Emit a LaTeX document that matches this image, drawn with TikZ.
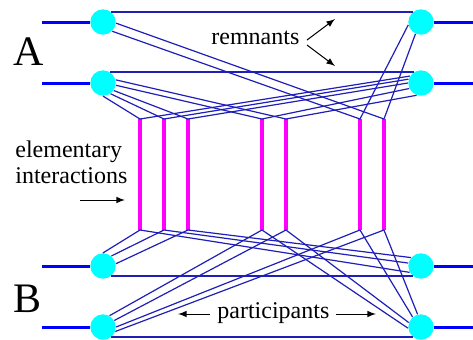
\documentclass[tikz,border=0pt]{standalone}
\usepackage{fontspec}
\setmainfont{Liberation Serif}
\usepackage{xcolor}
\usepackage{tikz}
\usetikzlibrary{arrows}
\definecolor{wireblue}{rgb}{0.12, 0.12, 0.72}
\definecolor{beamblue}{rgb}{0, 0, 1}
\definecolor{nucleon}{rgb}{0, 1, 1}
\definecolor{pomeron}{rgb}{1, 0, 1}

\begin{document}
\begin{tikzpicture}[x=0.5pt, y=-0.5pt,
	nuc/.style={circle, fill=nucleon, minimum size=12.7pt, inner sep=0pt},
	beam/.style={beamblue, line width=1.5pt},
	wire/.style={wireblue, line width=0.6pt},
	ladder/.style={pomeron, line width=2.3pt},
	lbl/.style={inner sep=0pt, font=\fontsize{12}{13.3}\selectfont},
	big/.style={inner sep=0pt, font=\fontsize{21}{25}\selectfont},
	pointer/.style={-latex, black, line width=0.5pt}]
	\useasboundingbox (0,0) rectangle (473,339);
	\pgfmathsetmacro{\ytop}{119}
	\pgfmathsetmacro{\ybot}{230}
	\node[nuc] (A1l) at (103,22) {};
	\node[nuc] (A1r) at (421,22) {};
	\node[nuc] (A2l) at (103,83) {};
	\node[nuc] (A2r) at (421,83) {};
	\node[nuc] (B1l) at (103,266) {};
	\node[nuc] (B1r) at (421,266) {};
	\node[nuc] (B2l) at (103,327) {};
	\node[nuc] (B2r) at (421,327) {};
	\coordinate (A1in) at (42,22);
	\coordinate (A1out) at (473,22);
	\coordinate (A2in) at (42,83);
	\coordinate (A2out) at (473,83);
	\coordinate (B1in) at (42,266);
	\coordinate (B1out) at (473,266);
	\coordinate (B2in) at (42,327);
	\coordinate (B2out) at (473,327);
	\draw[beam] (A1in) -- (A1l);
	\draw[beam] (A1r) -- (A1out);
	\draw[beam] (A2in) -- (A2l);
	\draw[beam] (A2r) -- (A2out);
	\draw[beam] (B1in) -- (B1l);
	\draw[beam] (B1r) -- (B1out);
	\draw[beam] (B2in) -- (B2l);
	\draw[beam] (B2r) -- (B2out);
	\foreach \n/\x in {1/140, 2/164, 3/188, 4/262, 5/286, 6/360, 7/384} {
		\coordinate (t\n) at (\x,\ytop);
		\coordinate (b\n) at (\x,\ybot);
		\draw[ladder] (t\n) -- (b\n);
	}
	\draw[wire] (A1l.50) -- (A1r.130);
	\draw[wire] (A2l.57) -- (A2r.123);
	\draw[wire] (B1l.-50) -- (B1r.-130);
	\draw[wire] (B2l.-50) -- (B2r.-130);
	\draw[wire] (A1l.-5) -- (t7);
	\draw[wire] (A1l.-45) -- (t6);
	\draw[wire] (A1r.193) -- (t6);
	\draw[wire] (A1r.245) -- (t7);
	\draw[wire] (A2l.14) -- (t5);
	\draw[wire] (A2l.-10) -- (t4);
	\draw[wire] (A2l.-35) -- (t3);
	\draw[wire] (A2l.-55) -- (t2);
	\draw[wire] (A2l.-90) -- (t1);
	\draw[wire] (A2r.148) -- (t1);
	\draw[wire] (A2r.163) -- (t2);
	\draw[wire] (A2r.180) -- (t3);
	\draw[wire] (A2r.205) -- (t4);
	\draw[wire] (A2r.250) -- (t5);
	\draw[wire] (B1l.90) -- (b1);
	\draw[wire] (B1l.50) -- (b2);
	\draw[wire] (B1l.10) -- (b3);
	\draw[wire] (B1r.140) -- (b3);
	\draw[wire] (B1r.167) -- (b2);
	\draw[wire] (B1r.209) -- (b1);
	\draw[wire] (B2l.60) -- (b4);
	\draw[wire] (B2l.30) -- (b5);
	\draw[wire] (B2l.0) -- (b6);
	\draw[wire] (B2l.-20) -- (b7);
	\draw[wire] (B2r.185) -- (b4);
	\draw[wire] (B2r.160) -- (b5);
	\draw[wire] (B2r.130) -- (b6);
	\draw[wire] (B2r.105) -- (b7);
	\node[big, anchor=base west] (Alabel) at (13,65) {A};
	\node[big, anchor=base west] (Blabel) at (13,312) {B};
	\node[lbl, anchor=base west] (remn) at (211,44) {remnants};
	\node[lbl, anchor=base west] (elem) at (15,157) {elementary};
	\node[lbl, anchor=base west] (inter) at (15,183) {interactions};
	\node[lbl, anchor=base west] (part) at (217,318) {participants};
	\coordinate (remA) at (307,40);
	\coordinate (remAtip) at (335,19);
	\coordinate (remB) at (307,45);
	\coordinate (remBtip) at (335,66);
	\coordinate (intA) at (80,200);
	\coordinate (intAtip) at (125,200);
	\coordinate (partA) at (210,314);
	\coordinate (partAtip) at (178,314);
	\coordinate (partB) at (336,314);
	\coordinate (partBtip) at (376,314);
	\draw[pointer] (remA) -- (remAtip);
	\draw[pointer] (remB) -- (remBtip);
	\draw[pointer] (intA) -- (intAtip);
	\draw[pointer] (partA) -- (partAtip);
	\draw[pointer] (partB) -- (partBtip);
\end{tikzpicture}
\end{document}
